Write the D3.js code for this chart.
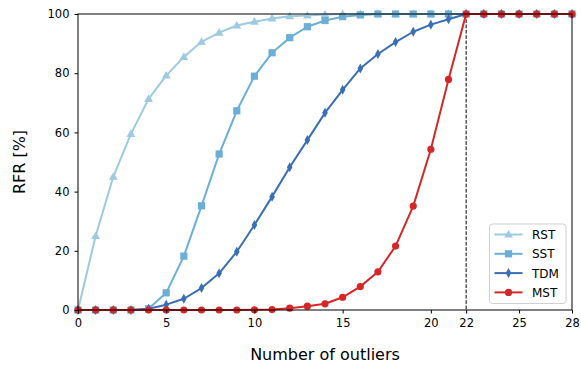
<!DOCTYPE html>
<html><head><meta charset="utf-8">
<script src="https://cdn.jsdelivr.net/npm/d3@7"></script>
<style>body{margin:0;background:#fff}svg{font-family:"DejaVu Sans",sans-serif}</style>
</head><body><svg id="c" width="581" height="365"></svg>
<script>
const xs = d3.range(0, 29);
const rst = [0,25,45,59.5,71.3,79.2,85.5,90.6,93.7,96.1,97.4,98.5,99.2,99.5,99.8,100,100,100,100,100,100,100,100,100,100,100,100,100,100];
const sst = [0,0,0,0,0.4,5.8,18.2,35.2,52.7,67.3,79,86.9,92,95.7,97.8,99.1,99.7,100,100,100,100,100,100,100,100,100,100,100,100];
const tdm = [0,0,0,0,0.4,1.8,3.8,7.4,12.4,19.7,28.7,38.3,48.2,57.4,66.6,74.4,81.6,86.5,90.5,94,96.4,98.2,100,100,100,100,100,100,100];
const mst = [0,0,0,0,0,0,0,0,0,0,0.05,0.15,0.6,1.3,2.1,4.3,7.9,12.9,21.6,35.1,54.3,77.9,100,100,100,100,100,100,100];
const seriesNames = ["RST","SST","TDM","MST"];
const seriesVals = [rst, sst, tdm, mst];
const colors = ["#9ecae1","#6baed6","#3a6eb5","#d62728"];
const markers = ["triangle","square","diamond","circle"];
const xTicks = [0,5,10,15,20,22,25,28];
const yTicks = [0,20,40,60,80,100];
const cutoff = 22;

const svg = d3.select("#c");
const L=78, R=572, T=14, B=310;
const x = d3.scaleLinear().domain([0,28]).range([L,R]);
const y = d3.scaleLinear().domain([0,100]).range([B,T]);

// dashed line
svg.append("line").attr("x1",x(cutoff)).attr("x2",x(cutoff)).attr("y1",y(100)).attr("y2",y(0))
  .attr("stroke","#000").attr("stroke-width",1).attr("stroke-dasharray","3.7,1.6");

function marker(g, type, cx, cy, col){
  if(type==="circle") g.append("circle").attr("cx",cx).attr("cy",cy).attr("r",3.6).attr("fill",col);
  else if(type==="square") g.append("rect").attr("x",cx-3.6).attr("y",cy-3.6).attr("width",7.2).attr("height",7.2).attr("fill",col);
  else if(type==="triangle") g.append("path").attr("d",`M${cx},${cy-4.6}L${cx+4.4},${cy+3}L${cx-4.4},${cy+3}Z`).attr("fill",col);
  else g.append("path").attr("d",`M${cx},${cy-5}L${cx+2.8},${cy}L${cx},${cy+5}L${cx-2.8},${cy}Z`).attr("fill",col);
}

const line = d3.line().x((d,i)=>x(xs[i])).y(d=>y(d));
seriesVals.forEach((vals,k)=>{
  const g = svg.append("g");
  g.append("path").datum(vals).attr("d",line).attr("fill","none").attr("stroke",colors[k]).attr("stroke-width",2).attr("stroke-linejoin","round");
  vals.forEach((v,i)=>marker(g, markers[k], x(xs[i]), y(v), colors[k]));
});

// frame
svg.append("rect").attr("x",L).attr("y",T).attr("width",R-L).attr("height",B-T).attr("fill","none").attr("stroke","#000").attr("stroke-width",1);

const xa = svg.append("g").attr("transform",`translate(0,${B})`)
  .call(d3.axisBottom(x).tickValues(xTicks).tickFormat(d3.format("d")).tickSize(3.5).tickPadding(5));
const ya = svg.append("g").attr("transform",`translate(${L},0)`)
  .call(d3.axisLeft(y).tickValues(yTicks).tickSize(3.5).tickPadding(5));
[xa,ya].forEach(a=>{a.select(".domain").remove();a.selectAll("text").attr("font-size",11.5).attr("fill","#000").attr("font-family","DejaVu Sans");a.selectAll("line").attr("stroke","#000");});

svg.append("text").attr("x",(L+R)/2).attr("y",360).attr("text-anchor","middle").attr("font-size",16).text("Number of outliers");
svg.append("text").attr("transform",`translate(25,${(T+B)/2}) rotate(-90)`).attr("text-anchor","middle").attr("font-size",16).text("RFR [%]");

// legend
const lg = svg.append("g");
lg.append("rect").attr("x",489.5).attr("y",224).attr("width",76.5).attr("height",79.5).attr("rx",3).attr("fill","#fff").attr("fill-opacity",0.85).attr("stroke","#d0d0d0");
seriesNames.forEach((n,k)=>{
  const yy = 234.5 + k*19.3;
  lg.append("line").attr("x1",494.5).attr("x2",522.5).attr("y1",yy).attr("y2",yy).attr("stroke",colors[k]).attr("stroke-width",2);
  marker(lg, markers[k], 508.5, yy, colors[k]);
  lg.append("text").attr("x",532).attr("y",yy+4.5).attr("font-size",12).text(n);
});
</script></body></html>
